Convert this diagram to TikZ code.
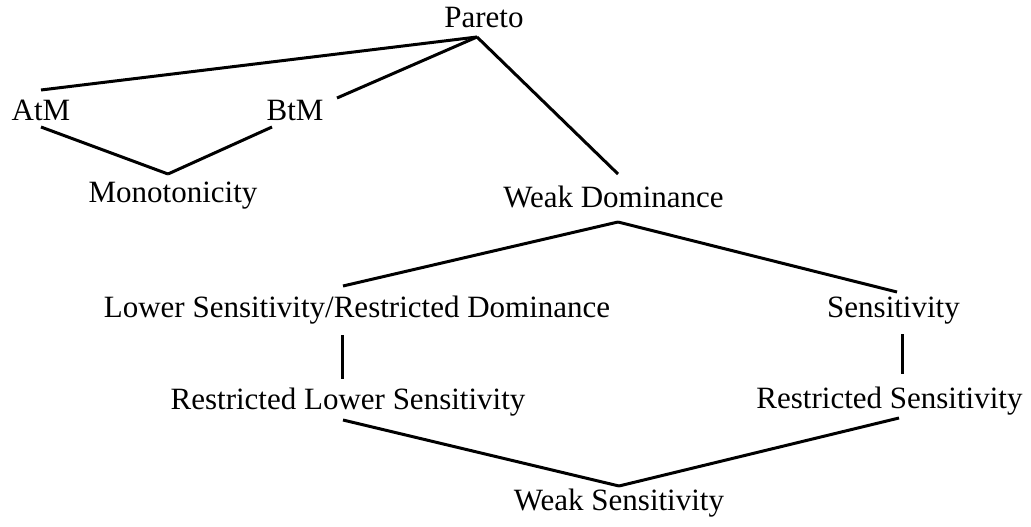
\documentclass[tikz,border=0pt]{standalone}
\usepackage{fontspec}
\setmainfont{Liberation Serif}
\begin{document}
\begin{tikzpicture}[x=1pt,y=-1pt,
  lbl/.style={anchor=base,inner sep=0pt,font=\fontsize{31}{37}\selectfont},
  edge/.style={line width=3pt,line cap=butt}]
\useasboundingbox (0,0) rectangle (1031,527);
\node[lbl] (pareto) at (484,28) {Pareto};
\node[lbl] (atm) at (41,120) {AtM};
\node[lbl] (btm) at (295,120) {BtM};
\node[lbl] (mono) at (173,202) {Monotonicity};
\node[lbl] (wd) at (613.5,207) {Weak Dominance};
\node[lbl] (lsrd) at (357,317) {Lower Sensitivity/Restricted Dominance};
\node[lbl] (sens) at (893.5,317) {Sensitivity};
\node[lbl] (rls) at (348,409) {Restricted Lower Sensitivity};
\node[lbl] (rs) at (889.5,408) {Restricted Sensitivity};
\node[lbl] (ws) at (619,510) {Weak Sensitivity};
% Pareto
\draw[edge] ([shift={(-7,9)}]pareto.base) -- ([shift={(0,-30)}]atm.base);
\draw[edge] ([shift={(-7,9)}]pareto.base) -- ([shift={(42,-22)}]btm.base);
\draw[edge] ([shift={(-7,9)}]pareto.base) -- ([shift={(4.5,-33)}]wd.base);
% Monotonicity
\draw[edge] ([shift={(0,7)}]atm.base) -- ([shift={(-5,-28)}]mono.base);
\draw[edge] ([shift={(-23,7)}]btm.base) -- ([shift={(-5,-28)}]mono.base);
% Weak Dominance
\draw[edge] ([shift={(4.5,15)}]wd.base) -- ([shift={(-14,-31)}]lsrd.base);
\draw[edge] ([shift={(4.5,15)}]wd.base) -- ([shift={(3.5,-25)}]sens.base);
% verticals
\draw[edge] ([shift={(-15,18)}]lsrd.base) -- ([shift={(-6,-30)}]rls.base);
\draw[edge] ([shift={(8.5,17)}]sens.base) -- ([shift={(12.5,-34)}]rs.base);
% Weak Sensitivity
\draw[edge] ([shift={(-5,11)}]rls.base) -- ([shift={(0,-24)}]ws.base);
\draw[edge] ([shift={(9.5,10)}]rs.base) -- ([shift={(0,-24)}]ws.base);
\end{tikzpicture}
\end{document}
